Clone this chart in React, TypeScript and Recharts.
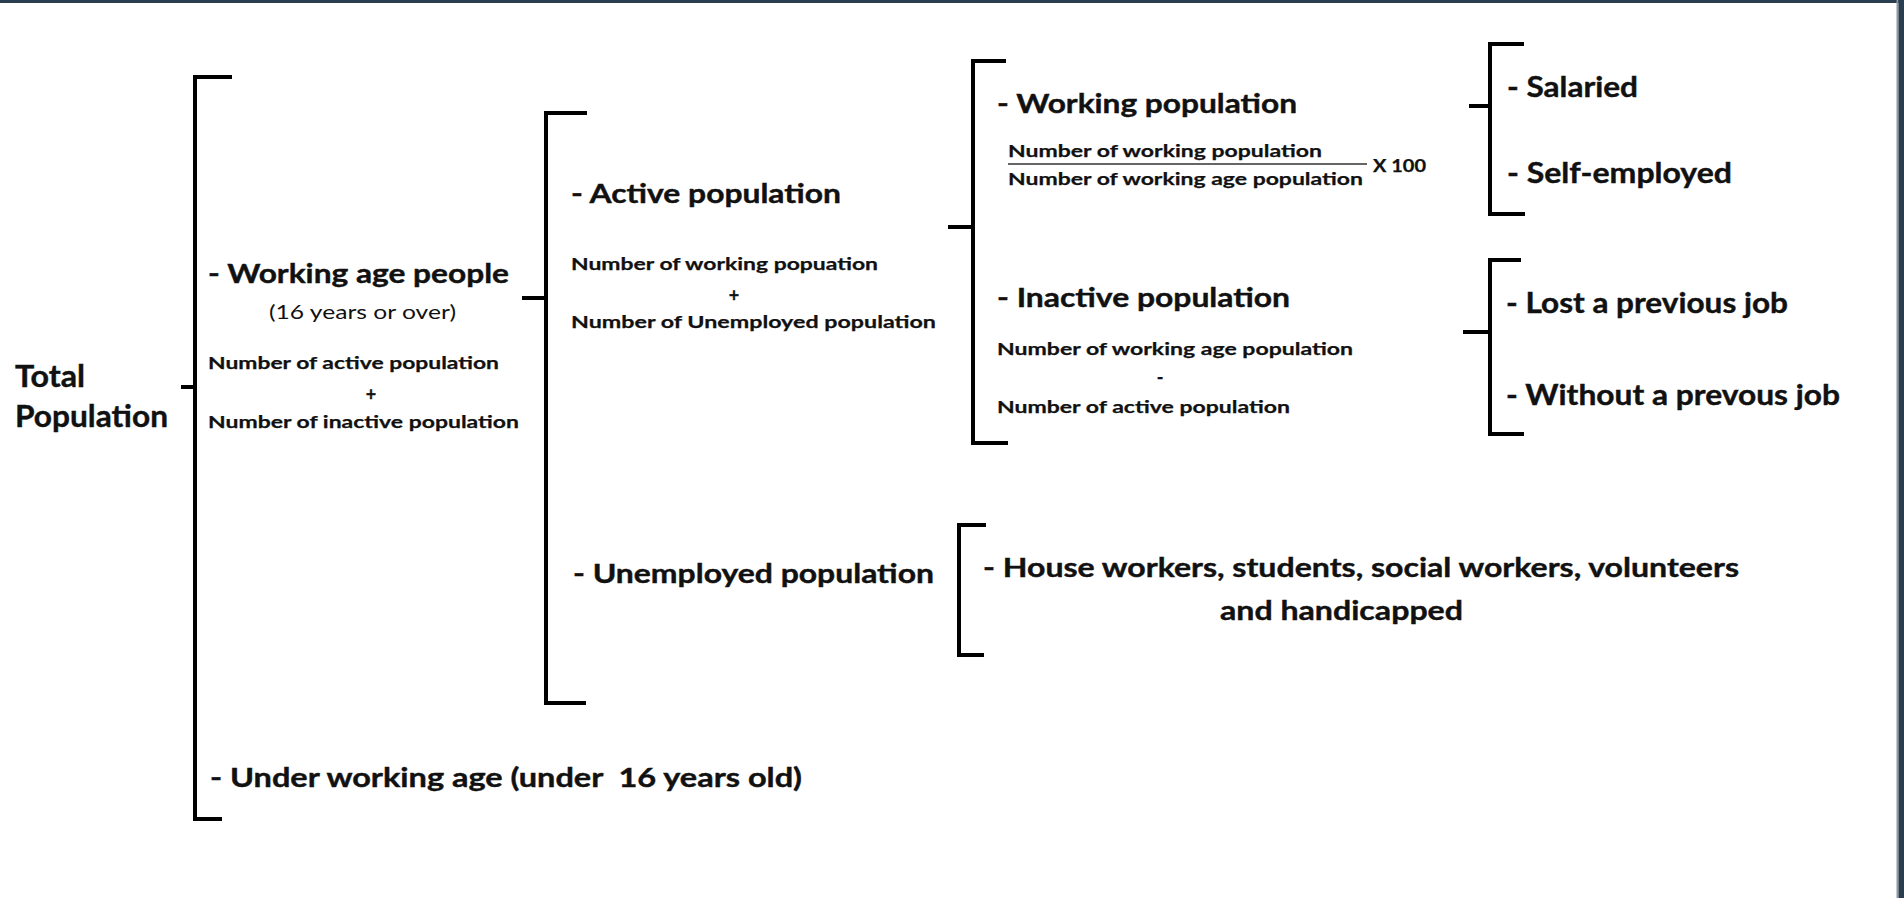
import { ReferenceArea, ReferenceLine, Scatter, ScatterChart, XAxis, YAxis } from "recharts";

const W = 1904;
const H = 898;

// each bracket: spine x, top / bottom y, where the two arms end, and the stem coming in from the left
const brackets = [
  { x: 195, top: 77, bottom: 819, topEnd: 232, bottomEnd: 222, stemY: 387, stemFrom: 181 },
  { x: 546, top: 113, bottom: 703, topEnd: 587, bottomEnd: 586, stemY: 298, stemFrom: 522 },
  { x: 973, top: 61, bottom: 443, topEnd: 1006, bottomEnd: 1008, stemY: 227, stemFrom: 948 },
  { x: 1490, top: 44, bottom: 214, topEnd: 1524, bottomEnd: 1525, stemY: 106, stemFrom: 1469 },
  { x: 1490, top: 260, bottom: 434, topEnd: 1521, bottomEnd: 1524, stemY: 332, stemFrom: 1463 },
  { x: 959, top: 525, bottom: 655, topEnd: 986, bottomEnd: 984, stemY: null, stemFrom: null }
];

const rootLabels = [
  { x: 15, x2: 85, y: 387, text: "Total" },
  { x: 15, x2: 168, y: 427, text: "Population" }
];

const groupLabels = [
  { x: 208, x2: 509, y: 283, text: "- Working age people" },
  { x: 571, x2: 841, y: 203, text: "- Active population" },
  { x: 997, x2: 1297, y: 113, text: "- Working population" },
  { x: 997, x2: 1290, y: 307, text: "- Inactive population" },
  { x: 573, x2: 934, y: 583, text: "- Unemployed population" },
  { x: 983, x2: 1739, y: 577, text: "- House workers, students, social workers, volunteers" },
  { x: 1220, x2: 1463, y: 620, text: "and handicapped" },
  { x: 210, x2: 802, y: 787, text: "- Under working age (under  16 years old)" }
];

const leafLabels = [
  { x: 1507, x2: 1638, y: 97, text: "- Salaried" },
  { x: 1507, x2: 1732, y: 183, text: "- Self-employed" },
  { x: 1506, x2: 1788, y: 313, text: "- Lost a previous job" },
  { x: 1506, x2: 1840, y: 405, text: "- Without a prevous job" }
];

const formulaLabels = [
  { x: 208, x2: 499, y: 369, text: "Number of active population" },
  { x: 208, x2: 519, y: 428, text: "Number of inactive population" },
  { x: 571, x2: 878, y: 270, text: "Number of working popuation" },
  { x: 571, x2: 936, y: 328, text: "Number of Unemployed population" },
  { x: 1008, x2: 1322, y: 157, text: "Number of working population" },
  { x: 1008, x2: 1363, y: 185, text: "Number of working age population" },
  { x: 997, x2: 1353, y: 355, text: "Number of working age population" },
  { x: 997, x2: 1290, y: 413, text: "Number of active population" }
];

const operators = [
  { x: 371, y: 401, text: "+" },
  { x: 734, y: 302, text: "+" },
  { x: 1160, y: 384, text: "-" }
];

const noteLabels = [{ x: 269, x2: 456, y: 319, text: "(16 years or over)" }];
const factorLabels = [{ x: 1373, x2: 1426, y: 172, text: "X 100" }];

// fraction bar under "Number of working population"
const fractionBar = { y: 164, from: 1008, to: 1367 };

const FONT = "Lato, 'Open Sans', sans-serif";

function textShape(size: number, weight: number, anchor: "start" | "middle" = "start", heavy = 0) {
  return (props: any) => {
    const p = props.payload;
    const fit = p.x2 != null ? { textLength: p.x2 - p.x, lengthAdjust: "spacingAndGlyphs" } : {};
    return (
      <text
        x={props.cx}
        y={props.cy}
        fontFamily={FONT}
        fontSize={size}
        fontWeight={weight}
        fill="#111"
        stroke={heavy ? "#111" : "none"}
        strokeWidth={heavy}
        textAnchor={anchor}
        style={{ whiteSpace: "pre" }}
        {...fit}
      >
        {p.text}
      </text>
    );
  };
}

const noDot = () => <g />;

export default function App() {
  return (
    <div style={{ position: "fixed", left: 0, top: 0, width: W, height: H, background: "#fff" }}>
      <ScatterChart width={W} height={H} margin={{ top: 0, right: 0, bottom: 0, left: 0 }}>
        <XAxis type="number" dataKey="x" domain={[0, W]} hide allowDataOverflow />
        <YAxis type="number" dataKey="y" domain={[0, H]} reversed hide allowDataOverflow />

        <ReferenceArea x1={0} x2={W} y1={0} y2={3} fill="#2b3e50" fillOpacity={1} stroke="none" />
        <ReferenceArea x1={1896.5} x2={1898.5} y1={0} y2={H} fill="#8c99a5" fillOpacity={1} stroke="none" />
        <ReferenceArea x1={1898.5} x2={W} y1={0} y2={H} fill="#2b3e50" fillOpacity={1} stroke="none" />

        {brackets.map((b, i) => (
          <Scatter
            key={`br-${i}`}
            data={[
              { x: b.topEnd, y: b.top },
              { x: b.x, y: b.top },
              { x: b.x, y: b.bottom },
              { x: b.bottomEnd, y: b.bottom }
            ]}
            line={{ stroke: "#000", strokeWidth: 4 }}
            shape={noDot}
            isAnimationActive={false}
          />
        ))}
        {brackets
          .filter((b) => b.stemY != null)
          .map((b, i) => (
            <Scatter
              key={`stem-${i}`}
              data={[
                { x: b.stemFrom, y: b.stemY },
                { x: b.x, y: b.stemY }
              ]}
              line={{ stroke: "#000", strokeWidth: 4 }}
              shape={noDot}
              isAnimationActive={false}
            />
          ))}

        <ReferenceLine
          segment={[
            { x: fractionBar.from, y: fractionBar.y },
            { x: fractionBar.to, y: fractionBar.y }
          ]}
          stroke="#666"
          strokeWidth={2}
        />

        <Scatter data={rootLabels} shape={textShape(30, 700, "start", 0.4)} isAnimationActive={false} />
        <Scatter data={groupLabels} shape={textShape(26, 700, "start", 0.4)} isAnimationActive={false} />
        <Scatter data={leafLabels} shape={textShape(28, 700, "start", 0.4)} isAnimationActive={false} />
        <Scatter data={formulaLabels} shape={textShape(17.5, 700, "start", 0.25)} isAnimationActive={false} />
        <Scatter data={operators} shape={textShape(18, 700, "middle", 0.3)} isAnimationActive={false} />
        <Scatter data={noteLabels} shape={textShape(19, 400)} isAnimationActive={false} />
        <Scatter data={factorLabels} shape={textShape(16.5, 700, "start", 0.25)} isAnimationActive={false} />
      </ScatterChart>
    </div>
  );
}
